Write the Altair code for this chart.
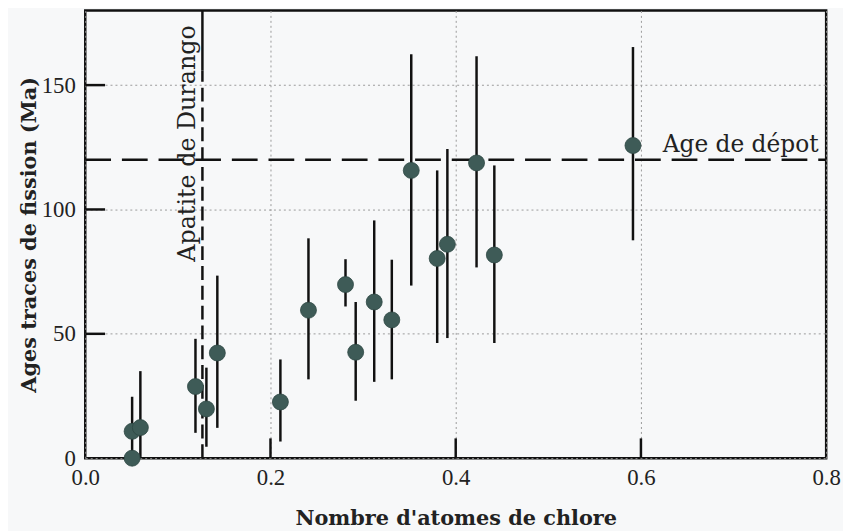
import altair as alt
import pandas as pd

# Data
chlore = [0.0506, 0.0506, 0.0595, 0.119, 0.1308, 0.1426, 0.2107, 0.241, 0.281,
          0.292, 0.312, 0.331, 0.352, 0.380, 0.391, 0.4225, 0.4417, 0.5914]
age = [0.0, 10.8, 12.3, 28.8, 19.8, 42.3, 22.6, 59.5, 69.8,
       42.6, 62.8, 55.6, 115.7, 80.3, 86.0, 118.7, 81.7, 125.7]
age_lo = [0.0, 1.0, 0.0, 10.2, 4.6, 12.2, 6.7, 31.7, 61.0,
          23.1, 30.7, 31.7, 69.4, 46.3, 48.3, 76.7, 46.3, 87.6]
age_hi = [0.0, 24.7, 35.0, 48.0, 36.4, 73.4, 39.7, 88.4, 80.0,
          62.8, 95.6, 79.8, 162.4, 115.7, 124.3, 161.6, 117.7, 165.3]

x_tick_values = [0.0, 0.2, 0.4, 0.6, 0.8]
y_tick_values = [0, 50, 100, 150]
x_inner_ticks = [0.2, 0.4, 0.6]
y_inner_ticks = [50, 100, 150]

depot_age = 120
depot_label = "Age de dépot"
depot_label_x = 0.6235
durango_x = 0.1265
durango_solid_from = 156
durango_label = "Apatite de Durango"
durango_label_y = 79

W, H = 748, 452
TICK_FONT = "Liberation Serif"
TEXT_FONT = "DejaVu Serif"

df = pd.DataFrame({"cl": chlore, "age": age, "lo": age_lo, "hi": age_hi})

xs = alt.Scale(domain=[0, 0.8], nice=False, zero=False)
ys = alt.Scale(domain=[0, 180], nice=False)

x_axis = alt.Axis(values=x_tick_values, format=".1f", grid=True, gridDash=[2, 3],
                  gridColor="#9a9a9a", gridWidth=1, ticks=False, domain=False,
                  labelFlush=False, labelBound=False,
                  labelFont=TICK_FONT, labelFontSize=23, labelColor="#222", labelPadding=9,
                  title="Nombre d'atomes de chlore", titleFont=TEXT_FONT, titleFontSize=21,
                  titleFontWeight="bold", titleColor="#222", titlePadding=18)
y_axis = alt.Axis(values=y_tick_values, grid=True, gridDash=[2, 3],
                  gridColor="#9a9a9a", gridWidth=1, ticks=False, domain=False,
                  labelFont=TICK_FONT, labelFontSize=23, labelColor="#222", labelPadding=10,
                  title="Ages traces de fission (Ma)", titleFont=TEXT_FONT, titleFontSize=21,
                  titleFontWeight="bold", titleColor="#222", titlePadding=2)

bars = alt.Chart(df).mark_rule(color="#111", strokeWidth=2.5).encode(
    x=alt.X("cl:Q", scale=xs, axis=x_axis),
    y=alt.Y("lo:Q", scale=ys, axis=y_axis),
    y2="hi:Q",
)

pts = alt.Chart(df).mark_circle(size=260, color="#3e5b57", opacity=1,
                                stroke="#2e4743", strokeWidth=0.8).encode(
    x=alt.X("cl:Q", scale=xs),
    y=alt.Y("age:Q", scale=ys),
)

depot_df = pd.DataFrame({"age": [depot_age], "label": [depot_label], "x": [depot_label_x]})
depot_line = alt.Chart(depot_df).mark_rule(color="#111", strokeWidth=2.5,
                                           strokeDash=[26, 11]).encode(
    y=alt.Y("age:Q", scale=ys),
    x=alt.value(0), x2=alt.value(W),
)
depot_text = alt.Chart(depot_df).mark_text(font=TEXT_FONT, fontSize=23.5, color="#222",
                                           align="left", baseline="alphabetic", dy=-8).encode(
    x=alt.X("x:Q", scale=xs), y=alt.Y("age:Q", scale=ys), text="label:N",
)

dur_df = pd.DataFrame({"x": [durango_x], "lo": [0], "mid": [durango_solid_from], "hi": [180],
                       "label": [durango_label], "ly": [durango_label_y]})
dur_dash = alt.Chart(dur_df).mark_rule(color="#111", strokeWidth=2.5,
                                       strokeDash=[14, 6]).encode(
    x=alt.X("x:Q", scale=xs), y=alt.Y("lo:Q", scale=ys), y2="mid:Q",
)
dur_solid = alt.Chart(dur_df).mark_rule(color="#111", strokeWidth=2.5).encode(
    x=alt.X("x:Q", scale=xs), y=alt.Y("mid:Q", scale=ys), y2="hi:Q",
)
dur_text = alt.Chart(dur_df).mark_text(font=TEXT_FONT, fontSize=24, color="#222", angle=270,
                                       align="left", baseline="alphabetic", dy=-7).encode(
    x=alt.X("x:Q", scale=xs), y=alt.Y("ly:Q", scale=ys), text="label:N",
)

xt_df = pd.DataFrame({"x": x_inner_ticks})
yt_df = pd.DataFrame({"y": y_inner_ticks})
x_ticks = alt.Chart(xt_df).mark_rule(color="#111", strokeWidth=2.5).encode(
    x=alt.X("x:Q", scale=xs), y=alt.value(H), y2=alt.value(H - 20),
)
y_ticks = alt.Chart(yt_df).mark_rule(color="#111", strokeWidth=2.5).encode(
    y=alt.Y("y:Q", scale=ys), x=alt.value(0), x2=alt.value(20),
)

chart = alt.layer(
    bars, dur_dash, dur_solid, depot_line, x_ticks, y_ticks, pts, depot_text, dur_text
).properties(
    width=W, height=H,
    autosize=alt.AutoSizeParams(type="none"),
    padding={"left": 78, "top": 0, "right": 17, "bottom": 71},
    background="#f7f8f9",
).configure_view(stroke="#111", strokeWidth=2.5)

chart.save("out.html", embed_options={"renderer": "svg", "actions": False})
